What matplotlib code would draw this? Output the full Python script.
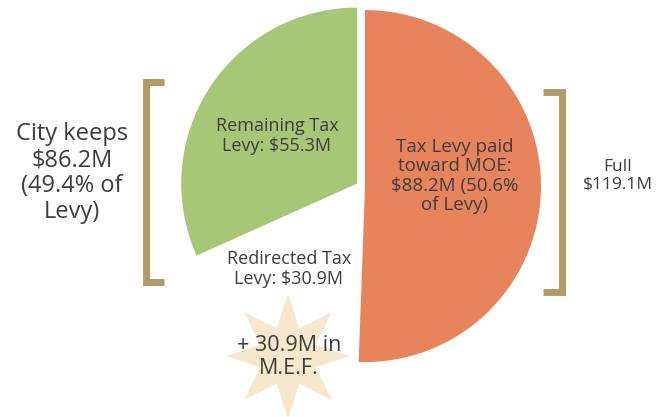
import matplotlib
matplotlib.use("Agg")
import matplotlib.pyplot as plt
import numpy as np
from matplotlib.patches import Polygon

plt.rcParams["font.family"] = ["Open Sans", "DejaVu Sans"]

# slice values in $M, drawn clockwise from the top
labels = ["Tax Levy paid toward MOE", "Redirected Tax Levy", "Remaining Tax Levy"]
values = [88.2, 30.9, 55.3]
colors = ["#E8845C", "#FFFFFF", "#A5C776"]

W, H = 665, 417
TXT = "#3d3d3d"
TAN = "#B39A66"

fig = plt.figure(figsize=(W / 100, H / 100), dpi=100)
ax = fig.add_axes([0, 0, 1, 1])


def Y(y):
    return H - y


# explode is in data units (pixels here)
ax.pie(values, colors=colors, startangle=90, counterclock=False,
       radius=176, center=(361, Y(186)), explode=[4, 0, 4.5],
       wedgeprops=dict(linewidth=0), frame=True)
ax.set_xlim(0, W)
ax.set_ylim(0, H)
ax.set_aspect("equal")
ax.axis("off")

# brackets
lw = 5
ax.plot([164, 146, 146, 164], [Y(82), Y(82), Y(282), Y(282)], color=TAN, lw=lw,
        solid_joinstyle="miter", solid_capstyle="butt")
ax.plot([543, 562, 562, 543], [Y(92), Y(92), Y(292), Y(292)], color=TAN, lw=lw,
        solid_joinstyle="miter", solid_capstyle="butt")

# eight pointed star
cx, cy = 288, Y(356)
r_out, r_in = 62, 30
pts = []
for i in range(16):
    a = np.pi / 2 + i * np.pi / 8
    r = r_out if i % 2 == 0 else r_in
    pts.append((cx + r * np.cos(a), cy + r * np.sin(a)))
ax.add_patch(Polygon(pts, closed=True, facecolor="#F6E8CC", edgecolor="none"))

# texts
ax.text(72, Y(173), "City keeps\n$86.2M\n(49.4% of\nLevy)", ha="center", va="center",
        fontsize=17, color=TXT, linespacing=1.1)
ax.text(618, Y(176), "Full\n$119.1M", ha="center", va="center",
        fontsize=12.5, color=TXT, linespacing=1.15)
ax.text(277, Y(136), "Remaining Tax\nLevy: $55.3M", ha="center", va="center",
        fontsize=13, color=TXT, linespacing=1.1)
ax.text(455, Y(176), "Tax Levy paid\ntoward MOE:\n$88.2M (50.6%\nof Levy)", ha="center", va="center",
        fontsize=13.5, color=TXT, linespacing=1.08)
ax.text(289, Y(269), "Redirected Tax\nLevy: $30.9M", ha="center", va="center",
        fontsize=13, color=TXT, linespacing=1.1)
ax.text(289, Y(357), "+ 30.9M in\nM.E.F.", ha="center", va="center",
        fontsize=15.5, color=TXT, linespacing=1.1)

fig.savefig("out.png", dpi=100, facecolor="white")
